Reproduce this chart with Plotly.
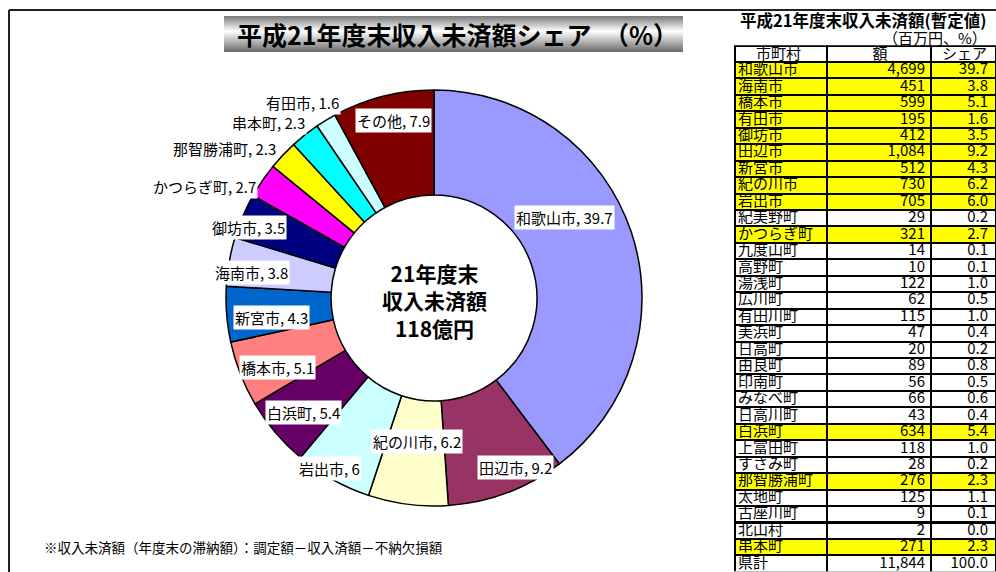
import plotly.graph_objects as go

W, H = 996, 572

# ---------------- data ----------------
pie_labels = ["和歌山市", "田辺市", "紀の川市", "岩出市", "白浜町", "橋本市", "新宮市",
              "海南市", "御坊市", "かつらぎ町", "那智勝浦町", "串本町", "有田市", "その他"]
pie_values = [39.7, 9.2, 6.2, 6.0, 5.4, 5.1, 4.3, 3.8, 3.5, 2.7, 2.3, 2.3, 1.6, 7.9]
pie_colors = ["#9999FF", "#993366", "#FFFFCC", "#CCFFFF", "#660066", "#FF8080", "#0066CC",
              "#CCCCFF", "#000080", "#FF00FF", "#FFFF00", "#00FFFF", "#CCFFFF", "#800000"]

table_names = ["和歌山市", "海南市", "橋本市", "有田市", "御坊市", "田辺市", "新宮市", "紀の川市",
               "岩出市", "紀美野町", "かつらぎ町", "九度山町", "高野町", "湯浅町", "広川町",
               "有田川町", "美浜町", "日高町", "由良町", "印南町", "みなべ町", "日高川町",
               "白浜町", "上富田町", "すさみ町", "那智勝浦町", "太地町", "古座川町", "北山村",
               "串本町", "県計"]
table_amounts = [4699, 451, 599, 195, 412, 1084, 512, 730, 705, 29, 321, 14, 10, 122, 62,
                 115, 47, 20, 89, 56, 66, 43, 634, 118, 28, 276, 125, 9, 2, 271, 11844]
table_shares = [39.7, 3.8, 5.1, 1.6, 3.5, 9.2, 4.3, 6.2, 6.0, 0.2, 2.7, 0.1, 0.1, 1.0, 0.5,
                1.0, 0.4, 0.2, 0.8, 0.5, 0.6, 0.4, 5.4, 1.0, 0.2, 2.3, 1.1, 0.1, 0.0, 2.3, 100.0]
table_header = ["市町村", "額", "シェア"]

title_text = "平成21年度末収入未済額シェア　（%）"
center_text = "21年度末<br>収入未済額<br>118億円"
table_title = "平成21年度末収入未済額(暫定値)"
table_unit = "（百万円、%）"
footnote = "※収入未済額（年度末の滞納額）：調定額－収入済額－不納欠損額"

# ---------------- layout helpers ----------------
def px(x):
    return x / W

def py(y):
    return 1 - y / H

FONT = "Noto Sans CJK JP"

# label centre positions (pixels)
label_pos = [(564, 217), (515, 467), (417, 441), (329, 468), (303, 412), (277, 367),
             (271, 317), (251, 272), (248, 227), (204, 187), (224, 148), (268, 122),
             (302, 102), (393, 120)]

cx, cy, R = 434, 298, 208

fig = go.Figure()

fig.add_trace(go.Pie(
    labels=pie_labels, values=pie_values, sort=False, direction="clockwise", rotation=0,
    hole=0.495, textinfo="none", hoverinfo="label+value",
    marker=dict(colors=pie_colors, line=dict(color="black", width=1.5)),
    domain=dict(x=[px(cx - R), px(cx + R)], y=[py(cy + R), py(cy - R)]),
    showlegend=False,
))

highlight = [n in pie_labels for n in table_names]
fills = ["#FFFF00" if h else "white" for h in highlight]
cell_values = [table_names,
               [f"{v:,}" for v in table_amounts],
               [f"{v:.1f}" for v in table_shares]]
blank_values = [["" for _ in col] for col in cell_values]
ROW_H = 16.45
HEAD_H = 15.6
TOP = 46.3
TXT = 15

# table grid (fills + borders)
fig.add_trace(go.Table(
    domain=dict(x=[px(735), 1.0], y=[0.0, py(TOP)]),
    columnwidth=[92, 104, 65],
    header=dict(values=["" for _ in table_header], height=HEAD_H,
                fill=dict(color="white"), line=dict(color="black", width=2)),
    cells=dict(values=blank_values, height=ROW_H,
               fill=dict(color=[fills, fills, fills]),
               line=dict(color="black", width=2)),
))
# table text layer
SHIFT = 7.0
fig.add_trace(go.Table(
    domain=dict(x=[px(730), 1.0], y=[0.0, py(TOP - SHIFT)]),
    columnwidth=[97, 106, 63],
    header=dict(values=table_header, align="center", height=HEAD_H,
                fill=dict(color="rgba(0,0,0,0)"), line=dict(color="rgba(0,0,0,0)", width=0),
                font=dict(family=FONT, size=TXT, color="black")),
    cells=dict(values=cell_values,
               align=["left", "right", "right"], height=ROW_H,
               fill=dict(color="rgba(0,0,0,0)"),
               line=dict(color="rgba(0,0,0,0)", width=0),
               font=dict(family=FONT, size=TXT, color="black")),
))

shapes = []
# title gradient box
x0, x1, y0, y1 = 224, 683, 16, 52
n = 36
for i in range(n):
    t = (i + 0.5) / n
    if t < 0.42:
        s = t / 0.42
        g = 120 + (255 - 120) * s
    else:
        s = (t - 0.42) / 0.58
        g = 255 - (255 - 105) * s
    g = int(round(g))
    shapes.append(dict(type="rect", xref="paper", yref="paper",
                       x0=px(x0), x1=px(x1), y0=py(y0 + (i + 1) * (y1 - y0) / n),
                       y1=py(y0 + i * (y1 - y0) / n),
                       fillcolor=f"rgb({g},{g},{g})", line=dict(width=0), layer="below"))
# frame lines
shapes.append(dict(type="line", xref="paper", yref="paper", x0=px(9), x1=1, y0=py(10), y1=py(10),
                   line=dict(color="#222", width=2)))
shapes.append(dict(type="line", xref="paper", yref="paper", x0=px(9), x1=px(9), y0=py(10), y1=0,
                   line=dict(color="#222", width=2)))

def ann(text, x, y, size, xanchor="center", **kw):
    return dict(text=text, x=px(x), y=py(y), xref="paper", yref="paper", showarrow=False,
                xanchor=xanchor, yanchor="middle",
                font=dict(family=FONT, size=size, color="black"), **kw)

annotations = [
    ann(f"<b>{title_text}</b>", 457, 34, 25),
    ann(f"<b>{center_text}</b>", cx, cy + 2, 21),
    ann(f"<b>{table_title}</b>", 738, 20, 16.5, xanchor="left"),
    ann(table_unit, 935, 37.5, 15),
    ann(footnote, 42, 547, 13.5, xanchor="left"),
]
for name, val, (lx, ly) in zip(pie_labels, pie_values, label_pos):
    annotations.append(ann(f"{name}, {val:g}", lx, ly, 15, bgcolor="white", borderpad=1))

fig.update_layout(width=W, height=H, margin=dict(l=0, r=0, t=0, b=0),
                  paper_bgcolor="white", plot_bgcolor="white",
                  shapes=shapes, annotations=annotations)

fig.write_html("out.html", config={"displayModeBar": False},
               post_script="document.body.style.margin='0px';")
